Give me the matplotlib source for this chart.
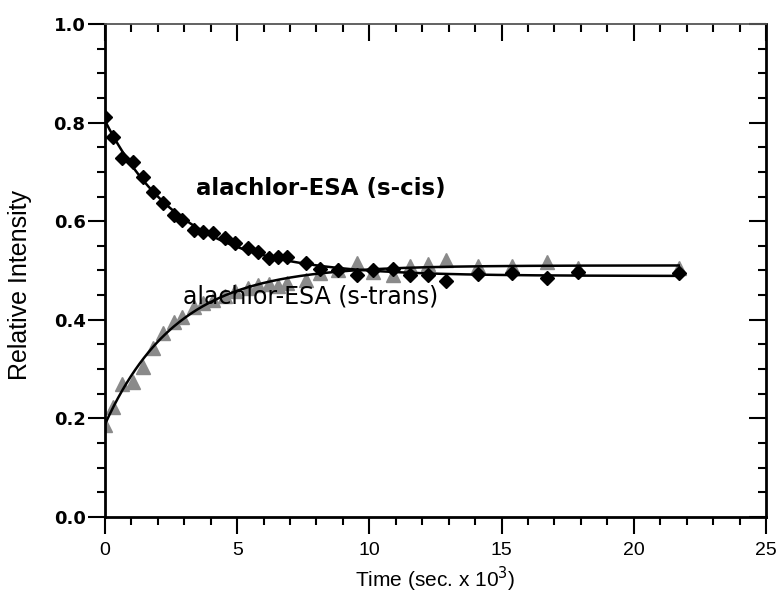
import matplotlib
matplotlib.use("Agg")
import matplotlib.pyplot as plt
import numpy as np
from matplotlib.ticker import MultipleLocator

plt.rcParams['font.family'] = ['Liberation Sans', 'DejaVu Sans']

# sampling times (sec x 10^3), shared by both isomers
time = [0, 0.3, 0.65, 1.05, 1.45, 1.8, 2.2, 2.6, 2.9, 3.35, 3.7, 4.1, 4.55,
        4.9, 5.4, 5.8, 6.2, 6.55, 6.9, 7.6, 8.15, 8.8, 9.55, 10.15, 10.9,
        11.55, 12.2, 12.9, 14.1, 15.4, 16.7, 17.9, 21.7]

s_cis = [0.811, 0.771, 0.728, 0.720, 0.690, 0.659, 0.637, 0.613, 0.602,
         0.582, 0.578, 0.576, 0.566, 0.556, 0.546, 0.537, 0.525, 0.528,
         0.528, 0.515, 0.503, 0.501, 0.491, 0.501, 0.503, 0.491, 0.491,
         0.479, 0.493, 0.495, 0.485, 0.497, 0.495]

s_trans = [0.187, 0.223, 0.270, 0.274, 0.305, 0.343, 0.373, 0.395, 0.406,
           0.426, 0.434, 0.440, 0.448, 0.458, 0.465, 0.470, 0.472, 0.468,
           0.474, 0.480, 0.495, 0.500, 0.515, 0.497, 0.490, 0.510, 0.513,
           0.521, 0.510, 0.510, 0.518, 0.505, 0.505]


def exp_fit(t, y):
    # first-order fit y = a + b*exp(-k t), k by grid search
    t = np.asarray(t)
    y = np.asarray(y)
    best = None
    for k in np.linspace(0.05, 2.0, 800):
        A = np.column_stack([np.ones_like(t), np.exp(-k * t)])
        coef = np.linalg.lstsq(A, y, rcond=None)[0]
        err = np.sum((A @ coef - y) ** 2)
        if best is None or err < best[0]:
            best = (err, coef[0], coef[1], k)
    _, a, b, k = best
    tt = np.linspace(0, t.max(), 400)
    return tt, a + b * np.exp(-k * tt)


fig = plt.figure(figsize=(7.81, 5.99), dpi=100)
ax = fig.add_axes([0.1344, 0.1369, 0.8464, 0.8231])

ax.plot(time, s_trans, linestyle='none', marker='^', markersize=10,
        color='#8a8a8a', markeredgecolor='#8a8a8a', zorder=2)
ax.plot(time, s_cis, linestyle='none', marker='D', markersize=7,
        color='black', zorder=3)

tt, fc = exp_fit(time, s_cis)
ax.plot(tt, fc, color='black', lw=1.8, zorder=4)
tt, ft = exp_fit(time, s_trans)
ax.plot(tt, ft, color='black', lw=1.8, zorder=4)

ax.text(3.45, 0.667, 'alachlor-ESA (s-cis)', fontsize=16.5, fontweight='bold',
        family='DejaVu Sans', va='center', ha='left')
ax.text(2.95, 0.448, 'alachlor-ESA (s-trans)', fontsize=17,
        family='DejaVu Sans', va='center', ha='left')

ax.set_xlim(0, 25)
ax.set_ylim(0, 1.0)
ax.xaxis.set_major_locator(MultipleLocator(5))
ax.xaxis.set_minor_locator(MultipleLocator(1))
ax.yaxis.set_major_locator(MultipleLocator(0.2))
ax.yaxis.set_minor_locator(MultipleLocator(0.05))
ax.yaxis.set_major_formatter(matplotlib.ticker.FormatStrFormatter('%.1f'))

ax.tick_params(which='both', direction='out', width=1.5)
ax.tick_params(which='major', length=12)
ax.tick_params(which='minor', length=6)
ax.tick_params(axis='x', labelsize=14, pad=6)
ax.tick_params(axis='y', labelsize=13, pad=2)
for lab in ax.get_yticklabels():
    lab.set_fontweight('bold')
    lab.set_family('DejaVu Sans')

for side in ['left', 'right', 'bottom']:
    ax.spines[side].set_linewidth(2)
ax.spines['top'].set_linewidth(1.3)
ax.spines['top'].set_color('#555555')

# top and right ticks point inward
top = ax.secondary_xaxis('top')
top.xaxis.set_major_locator(MultipleLocator(5))
top.xaxis.set_minor_locator(MultipleLocator(1))
top.tick_params(which='both', direction='in', width=1.5, labeltop=False)
top.tick_params(which='major', length=12)
top.tick_params(which='minor', length=6)
top.spines['top'].set_visible(False)

right = ax.secondary_yaxis('right')
right.yaxis.set_major_locator(MultipleLocator(0.2))
right.yaxis.set_minor_locator(MultipleLocator(0.05))
right.tick_params(which='both', direction='in', width=1.5, labelright=False)
right.tick_params(which='major', length=12)
right.tick_params(which='minor', length=6)
right.spines['right'].set_visible(False)

ax.set_xlabel('Time (sec. x 10$^3$)', fontsize=15, labelpad=4)
ax.set_ylabel('Relative Intensity', fontsize=18)
ax.yaxis.set_label_coords(-0.11, 0.47)

fig.savefig('out.png', dpi=100)
